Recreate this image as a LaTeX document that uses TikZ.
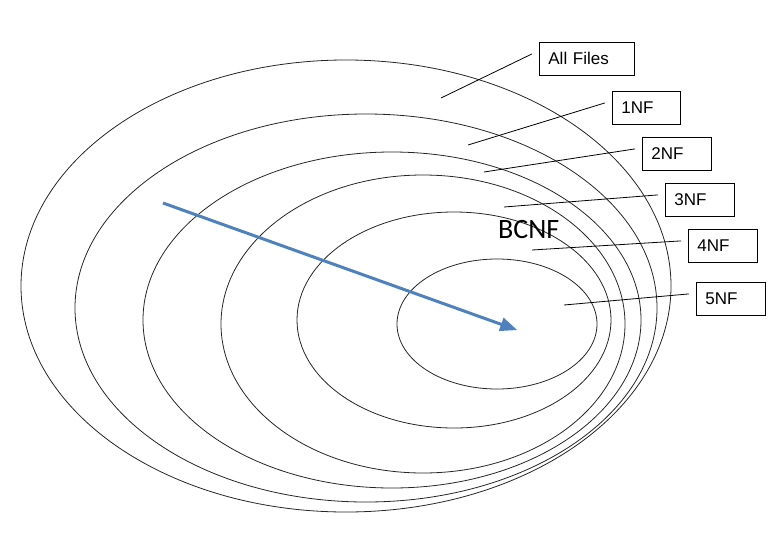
\documentclass[tikz,border=0pt]{standalone}
\usepackage{fontspec}
\setmainfont{Liberation Sans}
\newfontfamily\bcnffont{Carlito}
\usetikzlibrary{arrows,shapes}
\definecolor{nfblue}{RGB}{79,129,189}
\tikzstyle{ring}=[draw=black!85,line width=0.8pt]
\tikzstyle{label box}=[draw,line width=0.8pt,anchor=north west,minimum height=33pt,inner xsep=9pt,align=left,font=\fontsize{17}{19}\selectfont]
\tikzstyle{leader} = [draw,line width=0.8pt,-]
\tikzstyle{flow} = [draw=nfblue,line width=3pt,-triangle 45]

\begin{document}
\begin{tikzpicture}[x=1pt,y=-1pt]
    \useasboundingbox (0,0) rectangle (783,546);
    % Draw the nested normal form rings, outermost first
    \foreach \c/\rx/\ry in {{(346,286)/325/226}, {(366,308)/291/194}, {(392,320)/249/168}, {(423,324)/202/149}, {(454,320)/157/108}, {(497,324)/100/65}}
        \draw[ring] \c ellipse [x radius=\rx pt, y radius=\ry pt];

    % The labels in their boxes
    \foreach \pos/\name/\boxw/\txt in {{(539,42)/allf/77/All Files}, {(612,91)/nf1/50/1NF}, {(642,137)/nf2/51/2NF}, {(665,183)/nf3/51/3NF}, {(688,229)/nf4/51/4NF}, {(696,282)/nf5/51/5NF}}
        \node[label box,text width=\boxw pt] (\name) at \pos {\txt};
    \node[font=\bcnffont\fontsize{28}{30}\selectfont,anchor=base west,inner sep=0pt] (bcnf) at (498,238) {BCNF};

    % Points inside the rings that the leaders point to
    \foreach \pos/\name in {{(441,98)/pall}, {(468,145)/p1}, {(484,172)/p2}, {(504,207)/p3}, {(532,250)/p4}, {(564,305)/p5}}
        \path \pos coordinate (\name);

    % Connect boxes with their rings
    \foreach \source/\dest in {allf/pall, nf1/p1, nf2/p2, nf3/p3, nf4/p4, nf5/p5}
        \path[leader] ([shift={(-7,-5)}]\source.west) -- (\dest);

    % The blue arrow
    \coordinate (astart) at (163,203);
    \coordinate (aend) at (517,330);
    \path[flow] (astart) -- (aend);
\end{tikzpicture}
\end{document}
